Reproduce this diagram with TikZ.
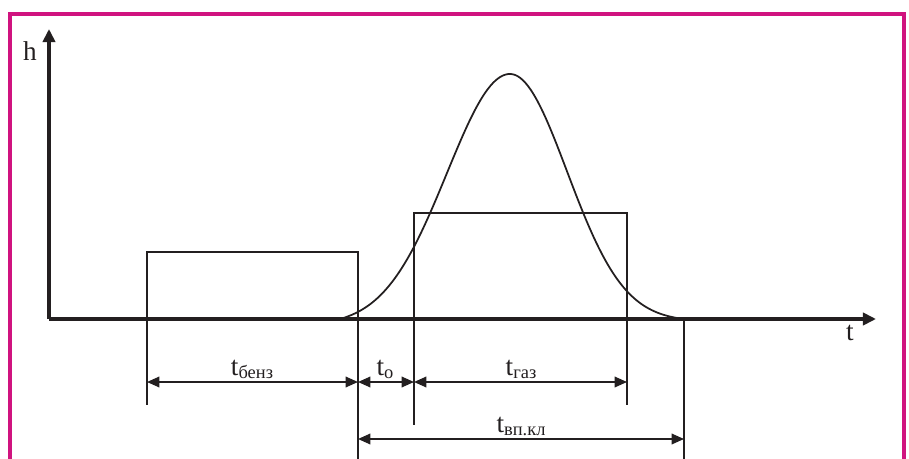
\documentclass[tikz,border=0pt]{standalone}
\usepackage{fontspec}
\setmainfont{Liberation Serif}
\usetikzlibrary{arrows.meta,positioning,calc}
\definecolor{frame}{HTML}{D0137F}
\definecolor{ink}{HTML}{231F20}
\newcommand{\tsub}[1]{t\raisebox{-0.25ex}{\fontsize{10.5}{12}\selectfont #1}}
\tikzset{
  axis/.style={draw=ink, line width=2.2pt, -{Triangle[length=7.5pt, width=7pt]}},
  thin/.style={draw=ink, line width=0.95pt},
  curve/.style={draw=ink, line width=1pt},
  dim/.style={draw=ink, line width=0.95pt, {Triangle[length=7pt, width=6pt]}-{Triangle[length=7pt, width=6pt]}},
  lbl/.style={text=ink, font=\fontsize{15.5}{18}\selectfont, inner sep=0pt}
}

\begin{document}
\begin{tikzpicture}[x=0.02cm, y=-0.02cm]
  \useasboundingbox (0,0) rectangle (909,459);
  % frame
  \draw[frame, line width=2.2pt] (10,459) -- (10,14) -- (904,14) -- (904,459);

  % key positions
  \coordinate (o) at (49,319);
  \coordinate (htip) at (49,29);
  \coordinate (ttip) at (876,319);
  \coordinate (b1) at (147,319);
  \coordinate (b2) at (358,319);
  \coordinate (g1) at (414,319);
  \coordinate (g2) at (627,319);
  \coordinate (e) at (684,319);

  % boxes
  \draw[thin] (b1) |- (358,252) -- (b2);
  \draw[thin] (g1) |- (627,213) -- (g2);

  % extension lines
  \draw[thin] (b1) -- ++(0,86) coordinate (b1d);
  \draw[thin] (b2) -- ++(0,140) coordinate (b2d);
  \draw[thin] (g1) -- ++(0,106) coordinate (g1d);
  \draw[thin] (g2) -- ++(0,86) coordinate (g2d);
  \draw[thin] (e) -- ++(0,140) coordinate (ed);

  % curve
  \draw[curve] plot[domain=340:510, samples=70, smooth]
    (\x, {319 - 245*(exp(-((\x-510)/63)^2/2) - 0.0262)/(1-0.0262)});
  \draw[curve] plot[domain=510:684, samples=70, smooth]
    (\x, {319 - 245*(exp(-((\x-510)/57)^2/2) - 0.0095)/(1-0.0095)});

  % axes
  \draw[axis] (o) -- (htip);
  \draw[axis] (o) -- (ttip);
  \node[lbl] (hlab) at (30,51) {h};
  \node[lbl] (tlab) at (850,333) {t};

  % dimensions
  \coordinate (r1a) at (147,382);
  \coordinate (r1b) at (358,382);
  \coordinate (r1c) at (414,382);
  \coordinate (r1d) at (627,382);
  \coordinate (r2a) at (358,439);
  \coordinate (r2b) at (684,439);
  \draw[dim] (r1a) -- (r1b);
  \draw[dim] (r1b) -- (r1c);
  \draw[dim] (r1c) -- (r1d);
  \draw[dim] (r2a) -- (r2b);
  \node[lbl, anchor=base] (benz) at (252,375) {\tsub{бенз}};
  \node[lbl, anchor=base] (zero) at (385,375) {\tsub{о}};
  \node[lbl, anchor=base] (gaz) at (521,375) {\tsub{газ}};
  \node[lbl, anchor=base] (vpkl) at (521,432) {\tsub{вп.кл}};
\end{tikzpicture}
\end{document}
